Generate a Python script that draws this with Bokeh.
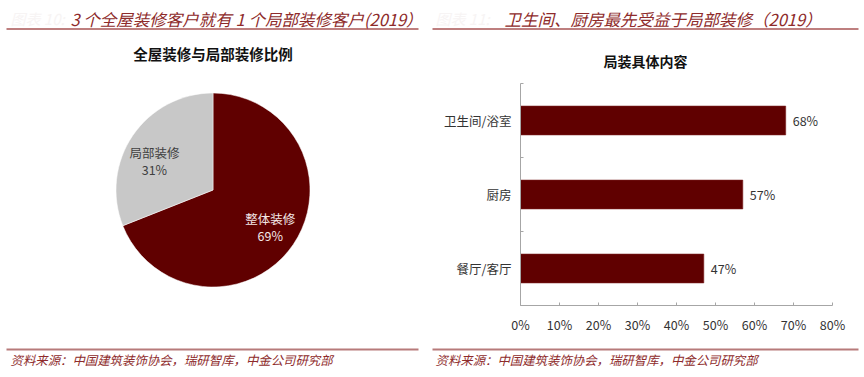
import math
from bokeh.plotting import figure
from bokeh.layouts import column, row
from bokeh.models import Range1d, FixedTicker, NumeralTickFormatter, ColumnDataSource
from bokeh.core.properties import value
from bokeh.embed import file_html
from bokeh.resources import INLINE

# ---------------- data ----------------
left_prefix = "图表 10:"
left_title = "3 个全屋装修客户就有 1 个局部装修客户(2019）"
right_prefix = "图表 11:"
right_title = "卫生间、厨房最先受益于局部装修（2019）"
source_text = "资料来源：中国建筑装饰协会，瑞研智库，中金公司研究部"

pie_title = "全屋装修与局部装修比例"
pie_labels = ["整体装修", "局部装修"]
pie_values = [0.69, 0.31]
pie_colors = ["#600000", "#C8C8C8"]
pie_text_colors = ["#F4E8E8", "#404040"]

bar_title = "局装具体内容"
bar_categories = ["餐厅/客厅", "厨房", "卫生间/浴室"]
bar_values = [0.47, 0.57, 0.68]
x_ticks = [0, 0.1, 0.2, 0.3, 0.4, 0.5, 0.6, 0.7, 0.8]

FONT = "Noto Sans CJK SC"
RED = "#600000"
HEAD = "#8E2B2B"
LINE = "#B77A7A"


def canvas(w, h, y0=0):
    f = figure(frame_width=w, frame_height=h, x_range=Range1d(0, w), y_range=Range1d(y0, y0 + h),
               x_axis_type=None, y_axis_type=None, toolbar_location=None,
               output_backend="svg", min_border=0)
    f.title.visible = False
    f.outline_line_color = None
    f.grid.visible = False
    f.background_fill_color = "white"
    f.border_fill_color = "white"
    return f


# ---------------- header (page titles + chart titles) ----------------
HH = 78
hdr = canvas(864, HH)
hdr.text(x=[10, 435], y=[HH - 18] * 2, text=[left_prefix, right_prefix], text_font=value(FONT),
         text_font_size="15px", text_color="#F7F4F4", text_baseline="middle",
         text_font_style="italic")
hdr.text(x=[70, 504], y=[HH - 18] * 2, text=[left_title, right_title], text_font=value(FONT),
         text_font_size="16.5px", text_color=HEAD, text_baseline="middle",
         text_font_style="italic")
hdr.line(x=[6, 418], y=[HH - 28.5] * 2, line_color="#A85555", line_width=1.6)
hdr.line(x=[432, 858], y=[HH - 28.5] * 2, line_color="#A85555", line_width=1.6)
hdr.text(x=[212.5], y=[HH - 53], text=[pie_title], text_font=value(FONT), text_font_size="14.5px",
         text_font_style="bold", text_color="#111111", text_align="center", text_baseline="middle")
hdr.text(x=[645], y=[HH - 60], text=[bar_title], text_font=value(FONT), text_font_size="14px",
         text_font_style="bold", text_color="#111111", text_align="center", text_baseline="middle")

# ---------------- pie ----------------
PH = 262
pie = canvas(432, PH, y0=-6)
cx, cy, R = 212.5, 149.5, 97
starts, ends, mids = [], [], []
cum = 0.0
for v in pie_values:
    s = math.pi / 2 - 2 * math.pi * cum
    cum += v
    e = math.pi / 2 - 2 * math.pi * cum
    starts.append(s)
    ends.append(e)
    mids.append((s + e) / 2)
pie.wedge(x=[cx] * len(pie_values), y=[cy] * len(pie_values), radius=R,
          start_angle=starts, end_angle=ends, direction="clock",
          fill_color=pie_colors, line_color="white", line_width=0.5)
label_r = [0.70, 0.675]
label_da = [math.radians(1.6), math.radians(7.7)]
lx = [cx + f * R * math.cos(m + d) for m, f, d in zip(mids, label_r, label_da)]
ly = [cy + f * R * math.sin(m + d) for m, f, d in zip(mids, label_r, label_da)]
pie.text(x=lx, y=ly, text=pie_labels, text_font=value(FONT), text_font_size="12.5px",
         text_color=pie_text_colors, text_align="center", text_baseline="middle", y_offset=-8.5)
pie.text(x=lx, y=ly, text=[f"{round(v * 100)}%" for v in pie_values], text_font=value(FONT),
         text_font_size="12.5px", text_color=pie_text_colors, text_align="center",
         text_baseline="middle", y_offset=9)

# ---------------- bar chart ----------------
ypos = list(range(len(bar_categories)))
src = ColumnDataSource(dict(y=ypos, v=bar_values, cat=bar_categories,
                            lab=[f"{round(v * 100)}%" for v in bar_values]))
bar = figure(frame_width=312, frame_height=222, x_range=Range1d(0, 0.8), y_range=Range1d(-0.5, 2.5),
             toolbar_location=None, output_backend="svg",
             min_border_left=88, min_border_right=32, min_border_top=5, min_border_bottom=35)
bar.title.visible = False
bar.outline_line_color = None
bar.grid.visible = False
bar.hbar(y="y", right="v", left=0, height=0.39, source=src, fill_color=RED, line_color="#7a2020",
         line_width=0.6)
bar.text(x="v", y="y", text="lab", source=src, x_offset=7, text_baseline="middle",
         text_font=value(FONT), text_font_size="12.5px", text_color="#333333")

bar.xaxis.ticker = FixedTicker(ticks=x_ticks)
bar.xaxis.formatter = NumeralTickFormatter(format="0%")
bar.yaxis.ticker = FixedTicker(ticks=ypos, minor_ticks=[-0.5, 0.5, 1.5, 2.5])
bar.yaxis.major_label_overrides = {i: c for i, c in zip(ypos, bar_categories)}
for ax in (bar.xaxis[0], bar.yaxis[0]):
    ax.axis_line_color = "#A6A6A6"
    ax.major_tick_line_color = "#A6A6A6"
    ax.minor_tick_line_color = "#A6A6A6"
    ax.major_label_text_font = FONT
    ax.major_label_text_font_size = "12.5px"
    ax.major_label_text_color = "#333333"
    ax.major_label_standoff = 9
bar.xaxis.major_tick_in = 3
bar.xaxis.major_tick_out = 0
bar.xaxis.minor_tick_line_color = None
bar.yaxis.major_tick_in = 0
bar.yaxis.major_tick_out = 0
bar.yaxis.minor_tick_in = 3
bar.yaxis.minor_tick_out = 0

# ---------------- footer ----------------
ftr = canvas(864, 37)
ftr.line(x=[6, 418], y=[28, 28], line_color=LINE, line_width=2)
ftr.line(x=[432, 858], y=[28, 28], line_color=LINE, line_width=2)
ftr.text(x=[10, 435], y=[18, 18], text=[source_text, source_text], text_font=value(FONT),
         text_font_size="12.4px", text_color=HEAD, text_baseline="middle", text_font_style="italic")

p = column(hdr, row(pie, bar, spacing=0), ftr, spacing=0)

open("out.html", "w").write(file_html(p, INLINE))
